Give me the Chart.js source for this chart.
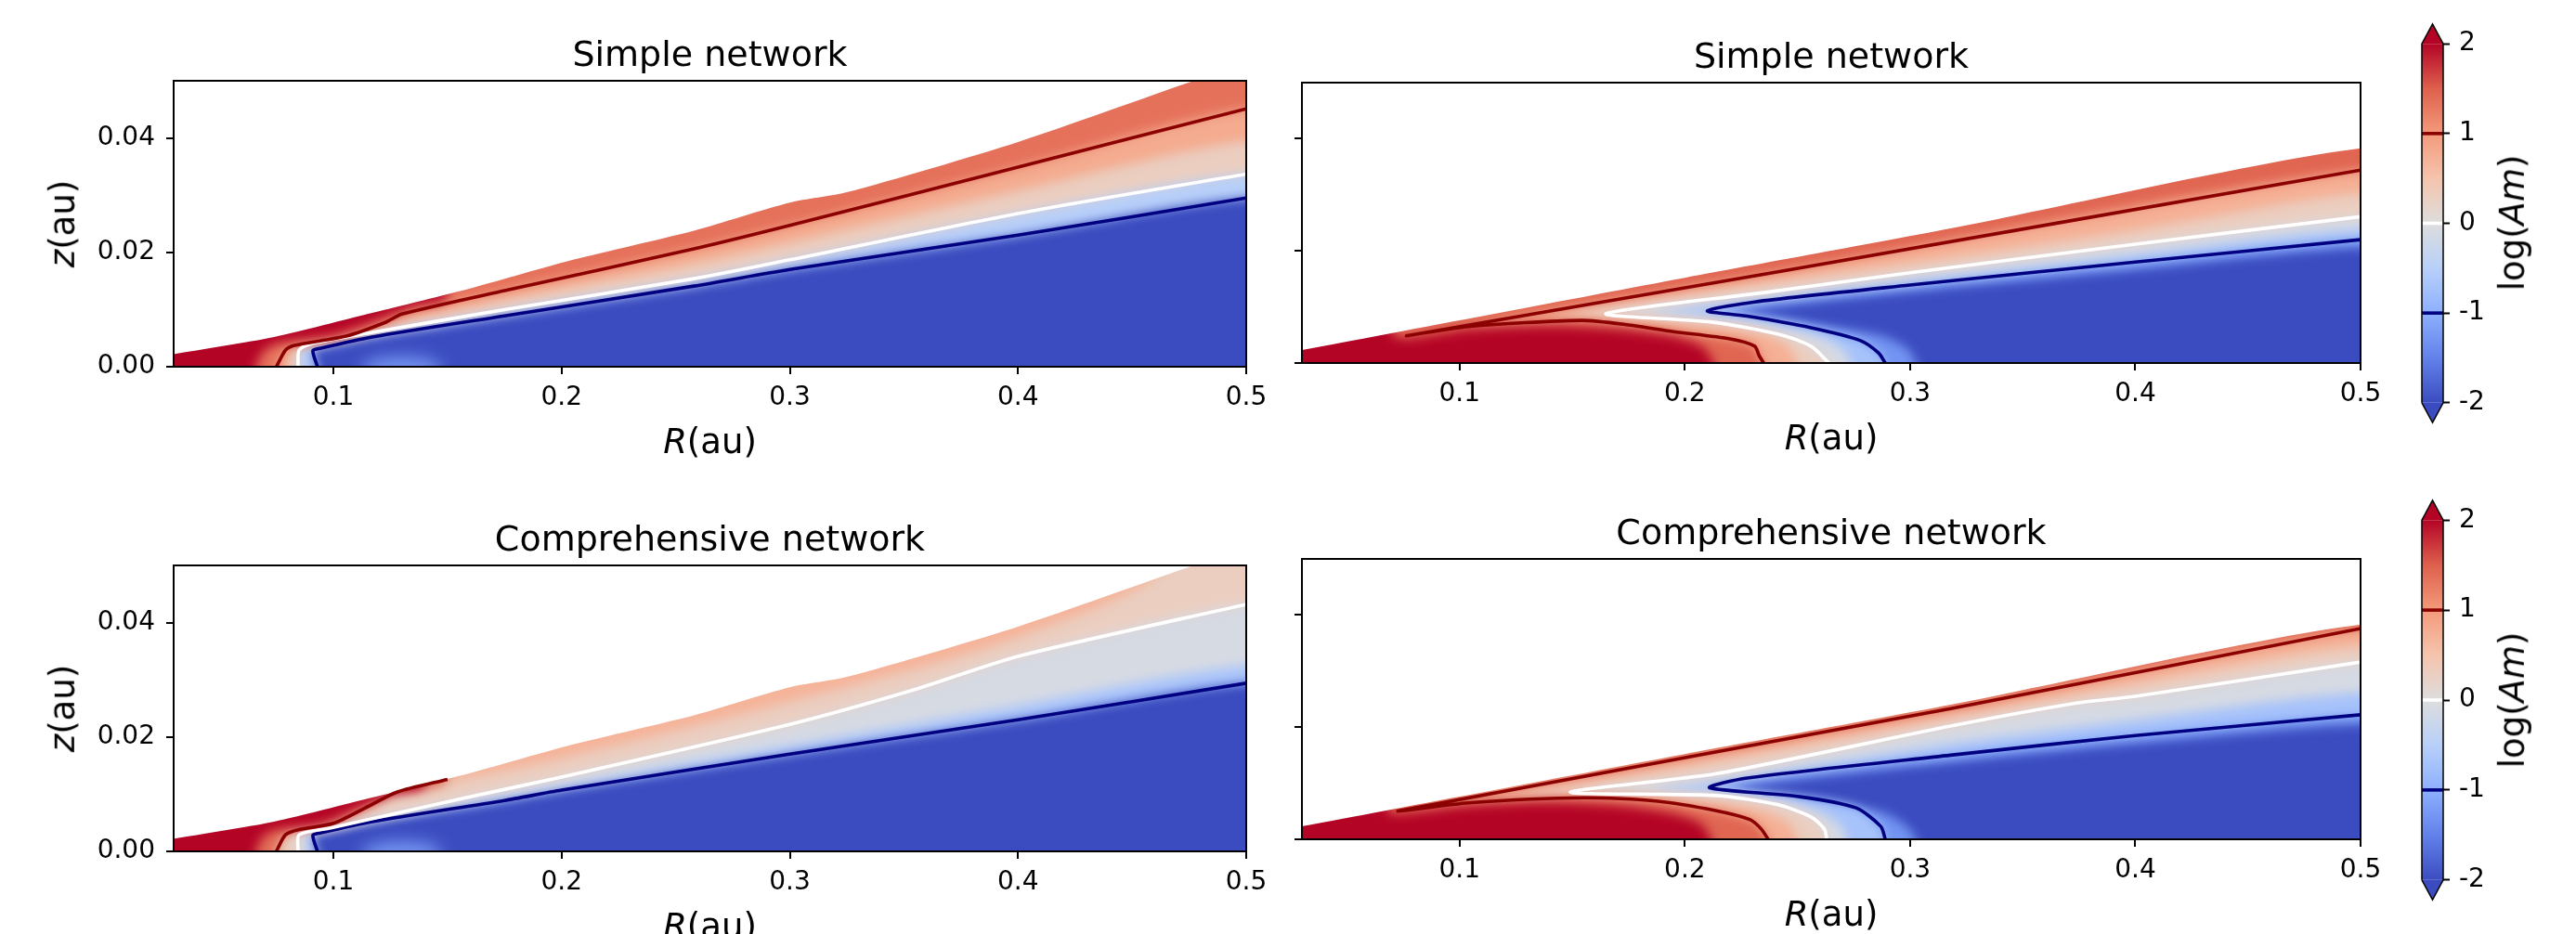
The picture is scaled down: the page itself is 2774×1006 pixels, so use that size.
<!DOCTYPE html>
<html>
<head>
<meta charset="utf-8">
<script src="https://cdn.jsdelivr.net/npm/chart.js@4.4.1/dist/chart.umd.min.js"></script>
<style>
  html, body { margin: 0; padding: 0; background: #fff; }
  #page { position: relative; width: 2774px; height: 1006px; overflow: hidden; background: #fff; }
  canvas { position: absolute; }
  .lab { position: absolute; font-family: 'DejaVu Sans', sans-serif; font-size: 37px; color: #000;
         white-space: nowrap; line-height: 1.2; transform: translate(-50%, -50%); }
  .lab.vert { transform: translate(-50%, -50%) rotate(-90deg); }
</style>
</head>
<body>
<div id="page"></div>
<script>
// axes / ticks
const rangeR = [0.03, 0.5];
const rangeZ = [0, 0.05];
const tickR = [0.1, 0.2, 0.3, 0.4, 0.5];
const tickZ = [0, 0.02, 0.04];
const cbRange = [-2, 2];
const cbTicks = [-2, -1, 0, 1, 2];
const contourLevels = [-1, 0, 1];
const panelTitles = ['Simple network', 'Simple network', 'Comprehensive network', 'Comprehensive network'];

// disk surface (upper edge of the coloured region), [R, z] in au
const surfaceLeft = [[0.03,0.0022],[0.074,0.0052],[0.117,0.0094],[0.161,0.0138],[0.205,0.0187],[0.258,0.0238],
  [0.3,0.0287],[0.325,0.0305],[0.4,0.0393],[0.477,0.05],[0.5,0.053]];
const surfaceRight = [[0.03,0.0023],[0.2,0.0152],[0.318,0.024],[0.5,0.0383]];
// faint blue spot near the midplane (left panels)
const glowLeft = [[0.113,-0.002],[0.113,0],[0.118,0.0012],[0.13,0.0017],[0.142,0.0012],[0.147,0],[0.147,-0.002]];

// panel a: simple network, left
const aLvlM1 = [[0.093,0],[0.091,0.0028],[0.094,0.0032],[0.117,0.0052],[0.175,0.0089],[0.258,0.0141],[0.3,0.017],[0.4,0.023],[0.5,0.0295]];
const aLvl0  = [[0.0845,0],[0.085,0.0029],[0.091,0.0041],[0.117,0.006],[0.175,0.01],[0.258,0.0154],[0.3,0.0187],[0.4,0.0268],[0.5,0.0337]];
const aHalf  = [[0.08,0],[0.082,0.0031],[0.09,0.0042],[0.11,0.0058],[0.13,0.008],[0.175,0.0117],[0.258,0.018],[0.3,0.0217],[0.4,0.0308],[0.5,0.0394]];
const aLvl1  = [[0.075,0],[0.079,0.0029],[0.0825,0.0037],[0.106,0.0054],[0.123,0.0078],[0.13,0.0092],[0.175,0.0133],[0.258,0.0206],[0.3,0.0247],[0.4,0.0349],[0.5,0.0451]];
const aDeep  = [[0.066,0],[0.069,0.0025],[0.075,0.004],[0.1,0.0055],[0.12,0.0082],[0.135,0.0105],[0.15,0.0125]];

// panel b: simple network, right
const bM15   = [[0.303,0],[0.299,0.0025],[0.288,0.0048],[0.265,0.0064],[0.24,0.0081],[0.222,0.009],[0.24,0.0101],[0.3,0.0128],[0.4,0.0167],[0.5,0.0206]];
const bLvlM1 = [[0.289,0],[0.286,0.0018],[0.278,0.004],[0.256,0.0063],[0.227,0.0084],[0.21,0.0093],[0.231,0.0109],[0.3,0.0139],[0.4,0.018],[0.5,0.022]];
const bM04   = [[0.274,0],[0.27,0.0025],[0.258,0.005],[0.23,0.0075],[0.2,0.0088],[0.185,0.0091],[0.22,0.0108],[0.3,0.0148],[0.4,0.0193],[0.5,0.0238]];
const bLvl0  = [[0.264,0],[0.256,0.003],[0.242,0.0051],[0.212,0.0073],[0.165,0.0088],[0.236,0.0126],[0.3,0.0161],[0.4,0.0212],[0.5,0.0261]];
const bHalf  = [[0.25,0],[0.246,0.0028],[0.236,0.005],[0.21,0.0066],[0.18,0.0078],[0.14,0.008],[0.16,0.0099],[0.236,0.0143],[0.3,0.0178],[0.4,0.0238],[0.5,0.0303]];
const bLvl1  = [[0.235,0],[0.233,0.0013],[0.231,0.003],[0.22,0.0043],[0.195,0.0056],[0.175,0.0068],[0.154,0.0076],[0.104,0.0065],[0.077,0.0049],[0.236,0.0159],[0.5,0.0344]];
const bDeep  = [[0.213,0],[0.208,0.0028],[0.195,0.0047],[0.17,0.006],[0.14,0.0066],[0.104,0.006],[0.077,0.0044],[0.07,0.0053]];

// panel c: comprehensive network, left
const cLvlM1 = [[0.093,0],[0.091,0.0028],[0.094,0.0032],[0.117,0.0052],[0.175,0.0089],[0.2,0.0107],[0.3,0.017],[0.4,0.023],[0.5,0.0294]];
const cM04   = [[0.089,0],[0.088,0.0028],[0.093,0.0037],[0.12,0.006],[0.2,0.0115],[0.3,0.0185],[0.4,0.0255],[0.5,0.0325]];
const cLvl0  = [[0.0845,0],[0.085,0.0029],[0.099,0.0041],[0.157,0.0093],[0.2,0.013],[0.3,0.0222],[0.354,0.0282],[0.4,0.0341],[0.5,0.0432]];
const cHalf  = [[0.15,0.0121],[0.2,0.0163],[0.3,0.0262],[0.4,0.0375],[0.47,0.052]];
const cLvl1  = [[0.075,0],[0.079,0.0029],[0.085,0.0038],[0.1,0.0049],[0.114,0.0076],[0.128,0.0104],[0.15,0.0126]];
const cDeep  = [[0.066,0],[0.069,0.0025],[0.075,0.0038],[0.095,0.0048],[0.11,0.0074],[0.125,0.0099],[0.14,0.0117]];

// panel d: comprehensive network, right
const dM15   = [[0.303,0],[0.298,0.0025],[0.288,0.0048],[0.27,0.0062],[0.245,0.0075],[0.222,0.0089],[0.24,0.0102],[0.318,0.0138],[0.4,0.0171],[0.5,0.0205]];
const dLvlM1 = [[0.289,0],[0.287,0.0023],[0.276,0.0056],[0.251,0.0076],[0.211,0.0092],[0.227,0.0109],[0.318,0.015],[0.4,0.0185],[0.5,0.0222]];
const dM04   = [[0.272,0],[0.27,0.002],[0.262,0.0045],[0.245,0.0068],[0.215,0.0083],[0.185,0.0088],[0.215,0.0104],[0.318,0.017],[0.4,0.0213],[0.5,0.0262]];
const dLvl0  = [[0.263,0],[0.262,0.0018],[0.256,0.004],[0.241,0.0062],[0.214,0.0078],[0.149,0.0084],[0.214,0.0117],[0.318,0.0202],[0.374,0.0243],[0.4,0.0255],[0.5,0.0316]];
const dHalf  = [[0.25,0],[0.247,0.0025],[0.236,0.0048],[0.214,0.0064],[0.19,0.0073],[0.155,0.0079],[0.11,0.0071],[0.2,0.013],[0.318,0.0218],[0.4,0.0278],[0.5,0.0345]];
const dLvl1  = [[0.237,0],[0.234,0.0018],[0.229,0.0035],[0.214,0.0051],[0.188,0.0068],[0.155,0.0074],[0.104,0.0065],[0.0733,0.0051],[0.318,0.0233],[0.5,0.0376]];
const dDeep  = [[0.212,0],[0.207,0.0028],[0.193,0.0047],[0.17,0.006],[0.14,0.0066],[0.104,0.006],[0.0733,0.0046],[0.068,0.0051]];

// coolwarm, 9 anchors
const coolwarm = [[59,76,192],[98,130,234],[141,176,254],[184,208,249],[221,221,221],[245,196,173],[244,154,123],[222,96,77],[180,4,38]];
const lineColors = { '-1': '#000080', '0': '#ffffff', '1': '#8b0000' };

function cmap(v) {
  let t = (v - cbRange[0]) / (cbRange[1] - cbRange[0]);
  t = Math.min(1, Math.max(0, t)) * (coolwarm.length - 1);
  const i = Math.min(Math.floor(t), coolwarm.length - 2), f = t - i;
  const c = coolwarm[i].map((a, k) => Math.round(a + (coolwarm[i + 1][k] - a) * f));
  return 'rgb(' + c.join(',') + ')';
}

Chart.defaults.font.family = "'DejaVu Sans', sans-serif";
Chart.defaults.color = '#000';

const page = document.getElementById('page');
const pts = arr => arr.map(([x, y]) => ({ x, y }));
// far-away points used only to close the shaded regions outside the plot
const FAR = { left: -0.1, right: 0.6, top: 0.1, bottom: -0.01 };

// region on the high side of a contour (the side that holds the top-left corner)
function regionAbove(curve) {
  const p = curve.slice();
  const [r0, z0] = curve[0], [r1, z1] = curve[curve.length - 1];
  if (r1 >= rangeR[1]) p.push([FAR.right, z1], [FAR.right, FAR.top]);
  else p.push([r1, FAR.top]);
  if (z0 <= rangeZ[0]) p.push([FAR.left, FAR.top], [FAR.left, FAR.bottom], [r0, FAR.bottom]);
  else if (r0 <= rangeR[0]) p.push([FAR.left, FAR.top], [FAR.left, z0]);
  else p.push([r0, FAR.top]);
  return pts(p);
}

function fillSet(data, color, blur) {
  return { data, showLine: true, fill: 'shape', backgroundColor: color, borderWidth: 0,
           pointRadius: 0, pointHoverRadius: 0, tension: 0.25, blur };
}
function lineSet(curve, level) {
  return { data: pts(curve), showLine: true, fill: false, borderColor: lineColors[level], borderWidth: 3.6,
           pointRadius: 0, pointHoverRadius: 0, tension: 0.25 };
}

// blur the colour bands so the steps read as a smooth field, then draw the axes frame
function nextFilter(chart, drawnIndex) {
  const metas = chart.getSortedVisibleDatasetMetas();
  const pos = drawnIndex < 0 ? metas.length - 1 : metas.findIndex(m => m.index === drawnIndex) - 1;
  const next = pos >= 0 ? metas[pos] : null;
  const blur = next ? chart.data.datasets[next.index].blur : 0;
  chart.ctx.filter = blur ? 'blur(' + blur + 'px)' : 'none';
}
const panelPlugin = {
  id: 'panelDecor',
  beforeDatasetsDraw(chart) { nextFilter(chart, -1); },
  afterDatasetDraw(chart, args) { nextFilter(chart, args.index); },
  afterDatasetsDraw(chart) {
    const ctx = chart.ctx, a = chart.chartArea;
    ctx.filter = 'none';
    ctx.save();
    ctx.strokeStyle = '#000';
    ctx.lineWidth = 2;
    ctx.strokeRect(a.left, a.top, a.right - a.left, a.bottom - a.top);
    ctx.restore();
  }
};

const panels = [
  { box: [187, 87, 1155, 308], title: panelTitles[0], yLabels: true, surface: surfaceLeft, glow: glowLeft,
    bands: [[aLvlM1, -0.5], [aLvl0, 0.3], [aHalf, 0.8], [aLvl1, 1.35], [aDeep, 2]],
    lines: [aLvlM1, aLvl0, aLvl1] },
  { box: [1402, 89, 1140, 302], title: panelTitles[1], yLabels: false, surface: surfaceRight, glow: null,
    bands: [[bM15, -1.3], [bLvlM1, -0.7], [bM04, -0.1], [bLvl0, 0.3], [bHalf, 0.75], [bLvl1, 1.45], [bDeep, 2]],
    lines: [bLvlM1, bLvl0, bLvl1] },
  { box: [187, 609, 1155, 308], title: panelTitles[2], yLabels: true, surface: surfaceLeft, glow: glowLeft,
    bands: [[cLvlM1, -0.65], [cM04, -0.1], [cLvl0, 0.3], [cHalf, 0.7], [cLvl1, 1.4], [cDeep, 2]],
    lines: [cLvlM1, cLvl0, cLvl1] },
  { box: [1402, 602, 1140, 302], title: panelTitles[3], yLabels: false, surface: surfaceRight, glow: null,
    bands: [[dM15, -1.3], [dLvlM1, -0.7], [dM04, -0.1], [dLvl0, 0.3], [dHalf, 0.75], [dLvl1, 1.45], [dDeep, 2]],
    lines: [dLvlM1, dLvl0, dLvl1] }
];

function addLabel(html, x, y, vertical) {
  const el = document.createElement('div');
  el.className = 'lab' + (vertical ? ' vert' : '');
  el.innerHTML = html;
  el.style.left = x + 'px';
  el.style.top = y + 'px';
  page.appendChild(el);
}

function makePanel(spec) {
  const [L, T, W, H] = spec.box;
  const padL = 150, padT = 80, padR = 40, padB = 60;
  const canvas = document.createElement('canvas');
  canvas.width = W + padL + padR;
  canvas.height = H + padT + padB;
  canvas.style.left = (L - padL) + 'px';
  canvas.style.top = (T - padT) + 'px';
  page.appendChild(canvas);

  const datasets = [];
  const box = [[FAR.left, FAR.bottom], [FAR.right, FAR.bottom], [FAR.right, FAR.top], [FAR.left, FAR.top]];
  datasets.push(fillSet(pts(box), cmap(cbRange[0]), 0));
  if (spec.glow) datasets.push(fillSet(pts(spec.glow), cmap(-1.25), 9));
  spec.bands.forEach(([curve, v]) => datasets.push(fillSet(regionAbove(curve), cmap(v), 6)));
  datasets.push(fillSet(regionAbove(spec.surface), '#ffffff', 0));
  spec.lines.forEach((curve, i) => datasets.push(lineSet(curve, contourLevels[i])));
  datasets.forEach((d, i) => { d.order = -i; });

  const tickGrid = { display: true, drawOnChartArea: false, drawTicks: true, tickLength: 8,
                     tickWidth: 2, lineWidth: 2, color: '#000' };
  new Chart(canvas, {
    type: 'scatter',
    data: { datasets },
    options: {
      responsive: false, animation: false, devicePixelRatio: 1,
      layout: { padding: { left: 0, right: padR, top: 0, bottom: 0 } },
      elements: { line: { capBezierPoints: false } },
      plugins: {
        legend: { display: false },
        tooltip: { enabled: false },
        title: { display: true, text: spec.title, fullSize: false, color: '#000',
                 font: { size: 38, weight: 'normal', lineHeight: 1.2 }, padding: { top: 31, bottom: 3.4 } }
      },
      scales: {
        x: {
          type: 'linear', min: rangeR[0], max: rangeR[1],
          afterBuildTicks: s => { s.ticks = tickR.map(v => ({ value: v })); },
          ticks: { font: { size: 28 }, color: '#000', padding: 9, maxRotation: 0, autoSkip: false,
                   callback: v => v.toFixed(1) },
          grid: tickGrid, border: { display: false },
          afterFit: s => { s.height = padB; s.paddingLeft = 0; s.paddingRight = 0; }
        },
        y: {
          type: 'linear', min: rangeZ[0], max: rangeZ[1],
          afterBuildTicks: s => { s.ticks = tickZ.map(v => ({ value: v })); },
          ticks: { display: spec.yLabels, font: { size: 28 }, color: '#000', padding: 12, autoSkip: false,
                   callback: v => v.toFixed(2) },
          grid: tickGrid, border: { display: false },
          afterFit: s => { s.width = padL; s.paddingTop = 0; s.paddingBottom = 0; }
        }
      }
    },
    plugins: [panelPlugin]
  });

  addLabel('<i>R</i>(au)', L + W / 2, T + H + 81, false);
  if (spec.yLabels) addLabel('<i>z</i>(au)', 68, T + H / 2, true);
}

panels.forEach(makePanel);

// colour bars
const cbExtend = 0.22;
const colorbars = [{ x: 2608, w: 23, top: 46.7, bottom: 434 }, { x: 2608, w: 23, top: 560, bottom: 948 }];

function makeColorbar(cb) {
  const ppu = (cb.bottom - cb.top) / (cbRange[1] - cbRange[0]);
  const yMin = cbRange[0] - 0.25, yMax = cbRange[1] + 0.25;
  const areaTop = cb.top - 0.25 * ppu, areaH = (yMax - yMin) * ppu;
  const padY = 30, padL = 10, axisW = 70;
  const canvas = document.createElement('canvas');
  canvas.width = padL + cb.w + axisW;
  canvas.height = areaH + 2 * padY;
  canvas.style.left = (cb.x - padL) + 'px';
  canvas.style.top = (areaTop - padY) + 'px';
  page.appendChild(canvas);

  const body = [[0, cbRange[0]], [1, cbRange[0]], [1, cbRange[1]], [0, cbRange[1]]];
  const topTri = [[0, cbRange[1]], [0.5, cbRange[1] + cbExtend], [1, cbRange[1]]];
  const botTri = [[0, cbRange[0]], [0.5, cbRange[0] - cbExtend], [1, cbRange[0]]];
  const outline = [[0, cbRange[0]], [0.5, cbRange[0] - cbExtend], [1, cbRange[0]], [1, cbRange[1]],
                   [0.5, cbRange[1] + cbExtend], [0, cbRange[1]], [0, cbRange[0]]];

  const gradient = c => {
    const chart = c.chart, ys = chart.scales.y;
    if (!ys || !chart.chartArea) return cmap(0);
    const g = chart.ctx.createLinearGradient(0, ys.getPixelForValue(cbRange[0]), 0, ys.getPixelForValue(cbRange[1]));
    coolwarm.forEach((a, i) => g.addColorStop(i / (coolwarm.length - 1), 'rgb(' + a.join(',') + ')'));
    return g;
  };

  const datasets = [
    { data: pts(body), showLine: true, fill: 'shape', backgroundColor: gradient, borderWidth: 0, pointRadius: 0 },
    { data: pts(topTri), showLine: true, fill: 'shape', backgroundColor: cmap(cbRange[1]), borderWidth: 0, pointRadius: 0 },
    { data: pts(botTri), showLine: true, fill: 'shape', backgroundColor: cmap(cbRange[0]), borderWidth: 0, pointRadius: 0 }
  ];
  contourLevels.forEach(lev => datasets.push({
    data: pts([[0, lev], [1, lev]]), showLine: true, fill: false, borderColor: lineColors[lev],
    borderWidth: 3.6, pointRadius: 0
  }));
  datasets.push({ data: pts(outline), showLine: true, fill: false, borderColor: '#000', borderWidth: 1.5,
                  pointRadius: 0, clip: false });
  datasets.forEach((d, i) => { d.order = -i; });

  new Chart(canvas, {
    type: 'scatter',
    data: { datasets },
    options: {
      responsive: false, animation: false, devicePixelRatio: 1,
      layout: { padding: { left: padL, right: 0, top: padY, bottom: padY } },
      plugins: { legend: { display: false }, tooltip: { enabled: false } },
      scales: {
        x: { type: 'linear', min: 0, max: 1, display: false },
        y: {
          type: 'linear', position: 'right', min: yMin, max: yMax,
          afterBuildTicks: s => { s.ticks = cbTicks.map(v => ({ value: v })); },
          ticks: { font: { size: 28 }, color: '#000', padding: 10, autoSkip: false, callback: v => String(v) },
          grid: { display: true, drawOnChartArea: false, drawTicks: true, tickLength: 7, tickWidth: 2, color: '#000' },
          border: { display: false },
          afterFit: s => { s.width = axisW; s.paddingTop = 0; s.paddingBottom = 0; }
        }
      }
    }
  });

  addLabel('log(<i>Am</i>)', 2706, (cb.top + cb.bottom) / 2, true);
}

colorbars.forEach(makeColorbar);
</script>
</body>
</html>
